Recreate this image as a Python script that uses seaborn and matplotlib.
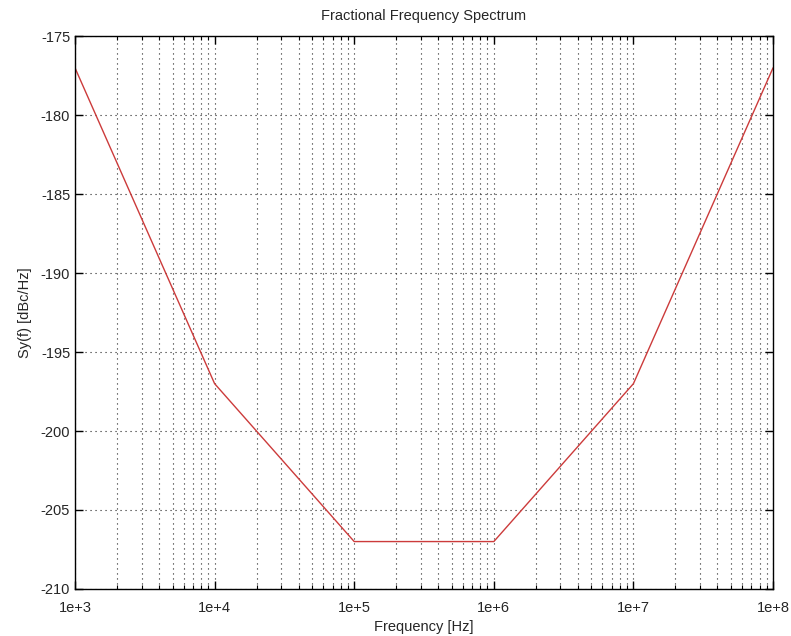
import matplotlib
matplotlib.use("Agg")
import matplotlib.pyplot as plt
import matplotlib.ticker as mticker
import seaborn as sns
import pandas as pd

# Fractional frequency spectrum corner points
freq_hz = [1e3, 1e4, 1e5, 1e6, 1e7, 1e8]
sy_dbc = [-177, -197, -207, -207, -197, -177]
x_ticks = [1e3, 1e4, 1e5, 1e6, 1e7, 1e8]
x_tick_labels = ["1e+3", "1e+4", "1e+5", "1e+6", "1e+7", "1e+8"]
y_ticks = [-210, -205, -200, -195, -190, -185, -180, -175]

sns.set_style("ticks")
plt.rcParams["font.family"] = ["Liberation Sans", "DejaVu Sans"]
plt.rcParams["axes.unicode_minus"] = False

df = pd.DataFrame({"freq": freq_hz, "sy": sy_dbc})

fig = plt.figure(figsize=(7.91, 6.36), dpi=100)
ax = fig.add_axes([0.0948, 0.074, 0.8825, 0.869])

sns.lineplot(data=df, x="freq", y="sy", ax=ax, color="#cc3b3b", linewidth=1.0)

ax.set_xscale("log")
ax.set_xlim(1e3, 1e8)
ax.set_ylim(-210, -175)
ax.set_xticks(x_ticks)
ax.set_xticklabels(x_tick_labels)
ax.xaxis.set_minor_locator(mticker.LogLocator(base=10, subs=range(2, 10)))
ax.xaxis.set_minor_formatter(mticker.NullFormatter())
ax.set_yticks(y_ticks)

ax.grid(True, which="major", axis="both", color="#222222", linestyle=(0, (1, 3.5)), linewidth=0.8)
ax.grid(True, which="minor", axis="x", color="#222222", linestyle=(0, (1, 3.5)), linewidth=0.8)

ax.tick_params(which="both", direction="in", top=True, right=True, labelsize=10.5, color="black")
ax.tick_params(which="major", length=6, width=1)
ax.tick_params(which="minor", length=3, width=0.8)
ax.tick_params(axis="x", pad=9)
for s in ax.spines.values():
    s.set_color("black")
    s.set_linewidth(1.0)

ax.set_xlabel("Frequency [Hz]", fontsize=10.5, labelpad=3)
ax.set_ylabel("Sy(f) [dBc/Hz]", fontsize=10.5, labelpad=6)
ax.set_title("Fractional Frequency Spectrum", fontsize=10.5, pad=12)

fig.savefig("out.png", dpi=100)
